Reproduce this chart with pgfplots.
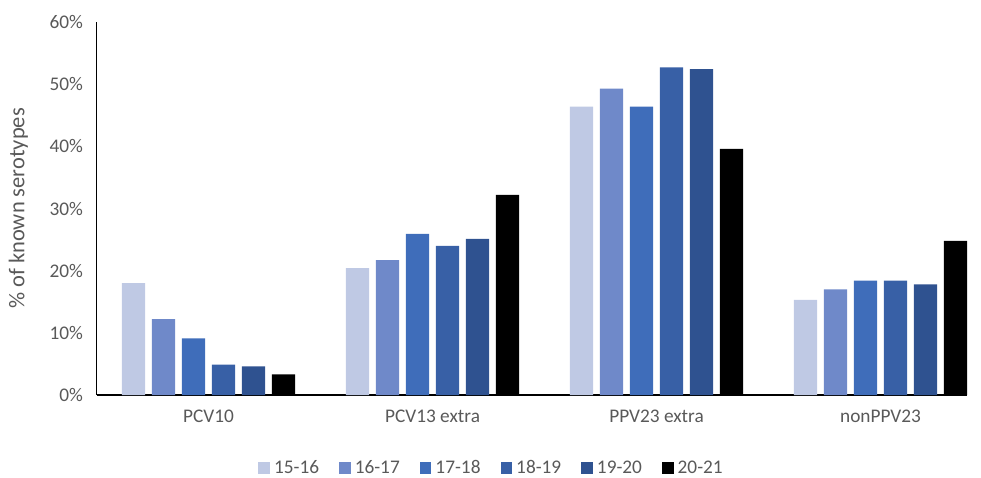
\documentclass[border=0pt]{standalone}
\usepackage{fontspec}
\setmainfont{Carlito}
\usepackage{pgfplots}
\pgfplotsset{compat=1.18}
\definecolor{cA}{HTML}{BFC9E4}
\definecolor{cB}{HTML}{6F89C9}
\definecolor{cC}{HTML}{3F6DBA}
\definecolor{cD}{HTML}{3860A6}
\definecolor{cE}{HTML}{2F5290}
\definecolor{cF}{HTML}{000000}
\definecolor{txt}{HTML}{595959}
\newcommand{\fs}{\fontsize{19.3}{23}\selectfont}
\newcommand{\fl}{\fontsize{22.5}{27}\selectfont}
\begin{document}
\begin{tikzpicture}
\useasboundingbox (0,0) rectangle (981pt,477pt);
\begin{axis}[
  at={(96.5pt,82pt)}, anchor=south west,
  scale only axis, width=870.5pt, height=373pt,
  xmin=-0.5, xmax=3.386, ymin=0, ymax=60,
  ybar=6.6pt, bar width=23.4pt,
  axis lines*=left,
  axis line style={black, line width=1.6pt},
  xtick={0,1,2,3},
  xticklabels={PCV10, PCV13 extra, PPV23 extra, nonPPV23},
  ytick={0,10,20,30,40,50,60},
  yticklabels={0\%,10\%,20\%,30\%,40\%,50\%,60\%},
  major tick length=0pt,
  tick label style={font=\fs, text=txt},
  xticklabel style={yshift=-11pt},
  yticklabel style={xshift=-10pt},
  ylabel={\% of known serotypes},
  every axis y label/.style={at={(rel axis cs:0,0.5)}, rotate=90, anchor=center, yshift=78pt, font=\fl, text=txt},
  legend columns=6,
  legend style={draw=none, fill=none, font=\fs, text=txt,
    at={(axis description cs:0.4538,-0.195)}, anchor=center,
    /tikz/every odd column/.append style={column sep=2pt},
    /tikz/every even column/.append style={column sep=18pt}},
  legend image code/.code={\fill[#1] (0pt,-5.85pt) rectangle (11.7pt,5.85pt);},
]
\addplot[fill=cA, draw=none] coordinates {(0,18.0) (1,20.4) (2,46.4) (3,15.3)};
\addplot[fill=cB, draw=none] coordinates {(0,12.2) (1,21.7) (2,49.3) (3,17.0)};
\addplot[fill=cC, draw=none] coordinates {(0,9.1) (1,25.9) (2,46.4) (3,18.4)};
\addplot[fill=cD, draw=none] coordinates {(0,4.9) (1,24.0) (2,52.7) (3,18.4)};
\addplot[fill=cE, draw=none] coordinates {(0,4.6) (1,25.1) (2,52.4) (3,17.8)};
\addplot[fill=cF, draw=none] coordinates {(0,3.3) (1,32.2) (2,39.6) (3,24.8)};
\legend{15-16,16-17,17-18,18-19,19-20,20-21}
\end{axis}
\end{tikzpicture}
\end{document}
